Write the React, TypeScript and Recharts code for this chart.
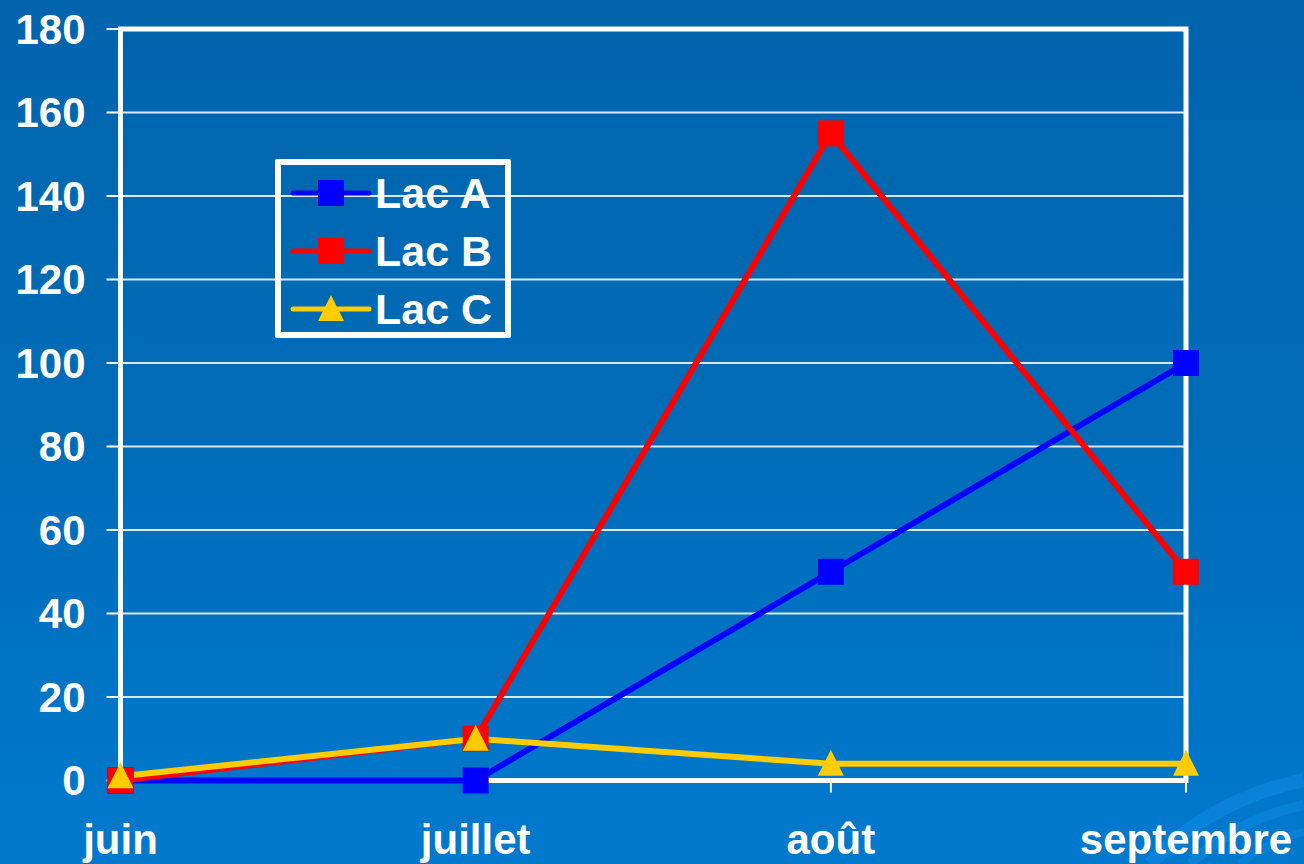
import { CartesianGrid, Legend, Line, LineChart, ReferenceArea, XAxis, YAxis } from "recharts";

const months = ["juin", "juillet", "août", "septembre"];
const lacA = [0, 0, 50, 100];
const lacB = [0, 10, 155, 50];
const lacC = [1, 10, 4, 4];
const yTicks = [0, 20, 40, 60, 80, 100, 120, 140, 160, 180];

const series = [
  { key: "lacA", name: "Lac A", color: "#0000ff", shape: "square" },
  { key: "lacB", name: "Lac B", color: "#ff0000", shape: "square" },
  { key: "lacC", name: "Lac C", color: "#ffcc00", shape: "triangle" },
];

const data = months.map((month, i) => ({ month, lacA: lacA[i], lacB: lacB[i], lacC: lacC[i] }));

const FONT = "'Liberation Sans', Arial, sans-serif";

function Marker({ cx, cy, fill, shape }: { cx: number; cy: number; fill: string; shape: string }) {
  if (shape === "triangle") {
    return <polygon points={`${cx},${cy - 14} ${cx - 13},${cy + 12} ${cx + 13},${cy + 12}`} fill={fill} />;
  }
  return <rect x={cx - 13} y={cy - 13} width={26} height={26} fill={fill} />;
}

function LegendBox() {
  return (
    <div
      style={{
        position: "relative",
        width: 236,
        height: 179,
        boxSizing: "border-box",
        border: "6px solid #fff",
        borderRadius: 2,
        fontFamily: FONT,
      }}
    >
      {series.map((s, i) => (
        <div key={s.key} style={{ position: "absolute", left: 0, top: 8 + i * 58, height: 40, width: 224 }}>
          <svg width={84} height={40} style={{ position: "absolute", left: 8, top: 0 }}>
            <line x1={4} y1={20} x2={80} y2={20} stroke={s.color} strokeWidth={5} strokeLinecap="round" />
            <Marker cx={42} cy={20} fill={s.color} shape={s.shape} />
          </svg>
          <span
            style={{
              position: "absolute",
              left: 94,
              top: 0,
              lineHeight: "40px",
              fontSize: 43,
              fontWeight: 700,
              color: "#fff",
              whiteSpace: "nowrap",
            }}
          >
            {s.name}
          </span>
        </div>
      ))}
    </div>
  );
}

export default function App() {
  return (
    <div
      style={{
        position: "absolute",
        left: 0,
        top: 0,
        width: 1304,
        height: 864,
        overflow: "hidden",
        background: "linear-gradient(180deg, #0064ac 0%, #006cb8 50%, #0079cd 100%)",
      }}
    >
      <svg width={1304} height={864} style={{ position: "absolute", left: 0, top: 0 }}>
        <path d="M1150,864 Q1210,800 1304,780" fill="none" stroke="#0a86dc" strokeWidth={14} opacity={0.8} />
        <path d="M1190,864 Q1240,818 1304,805" fill="none" stroke="#0a86dc" strokeWidth={10} opacity={0.7} />
        <path d="M1240,864 Q1270,840 1304,832" fill="none" stroke="#0a86dc" strokeWidth={8} opacity={0.6} />
      </svg>
      <LineChart
        width={1304}
        height={864}
        data={data}
        margin={{ top: 29, right: 118, bottom: 13.5, left: 20.5 }}
        style={{ fontFamily: FONT }}
      >
        <CartesianGrid vertical={false} stroke="#ffffff" strokeWidth={2} strokeOpacity={0.85} />
        <XAxis
          dataKey="month"
          height={70}
          axisLine={false}
          tickLine={{ stroke: "#fff", strokeWidth: 2 }}
          tickSize={12}
          tickMargin={32}
          tick={{ fill: "#fff", fontSize: 42, fontWeight: 700 }}
          interval={0}
        />
        <YAxis
          width={100}
          domain={[0, 180]}
          ticks={yTicks}
          axisLine={false}
          tickLine={{ stroke: "#fff", strokeWidth: 2 }}
          tickSize={14}
          tickMargin={21}
          tick={{ fill: "#fff", fontSize: 42, fontWeight: 700 }}
        />
        <ReferenceArea
          x1="juin"
          x2="septembre"
          y1={0}
          y2={180}
          fill="none"
          stroke="#fff"
          strokeWidth={5}
          fillOpacity={0}
          ifOverflow="visible"
        />
        <Legend
          layout="vertical"
          align="center"
          verticalAlign="middle"
          wrapperStyle={{ left: 275, top: 159, width: 236 }}
          content={() => <LegendBox />}
        />
        {series.map((s) => (
          <Line
            key={s.key}
            dataKey={s.key}
            name={s.name}
            type="linear"
            stroke={s.color}
            strokeWidth={6}
            isAnimationActive={false}
            activeDot={false}
            dot={(p: any) => <Marker key={`${s.key}-${p.index}`} cx={p.cx} cy={p.cy} fill={s.color} shape={s.shape} />}
          />
        ))}
      </LineChart>
    </div>
  );
}
